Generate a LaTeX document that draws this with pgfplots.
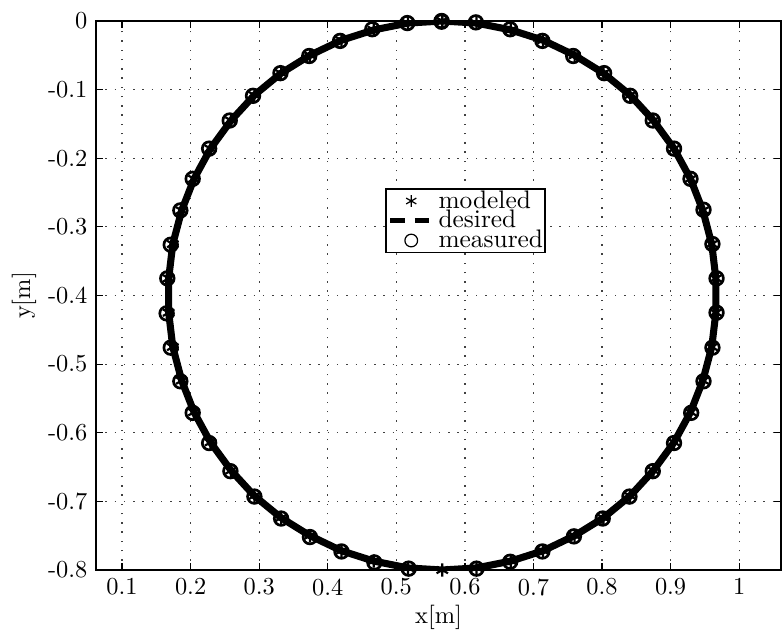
\documentclass[border=0pt]{standalone}
\usepackage{pgfplots}
\usepackage{pgfplotstable}
\pgfplotsset{compat=1.18}

% modeled trajectory (also the desired circle)
\pgfplotstableread{
x y
0.567 0.000
0.617 -0.003
0.667 -0.013
0.714 -0.028
0.760 -0.050
0.802 -0.076
0.841 -0.108
0.875 -0.145
0.905 -0.186
0.929 -0.230
0.947 -0.276
0.960 -0.325
0.966 -0.375
0.966 -0.425
0.960 -0.475
0.947 -0.524
0.929 -0.570
0.905 -0.614
0.875 -0.655
0.841 -0.692
0.802 -0.724
0.760 -0.750
0.714 -0.772
0.667 -0.787
0.617 -0.797
0.567 -0.800
0.517 -0.797
0.467 -0.787
0.420 -0.772
0.374 -0.750
0.332 -0.724
0.293 -0.692
0.259 -0.655
0.229 -0.614
0.205 -0.570
0.187 -0.524
0.174 -0.475
0.168 -0.425
0.168 -0.375
0.174 -0.325
0.187 -0.276
0.205 -0.230
0.229 -0.186
0.259 -0.145
0.293 -0.108
0.332 -0.076
0.374 -0.050
0.420 -0.028
0.467 -0.013
0.517 -0.003
0.567 0.000
}\modeled

% measured trajectory
\pgfplotstableread{
x y
0.566 0.000
0.616 -0.002
0.666 -0.012
0.713 -0.029
0.758 -0.051
0.803 -0.076
0.841 -0.109
0.874 -0.145
0.905 -0.186
0.929 -0.230
0.948 -0.275
0.961 -0.325
0.967 -0.375
0.967 -0.425
0.961 -0.476
0.948 -0.525
0.930 -0.571
0.905 -0.615
0.874 -0.656
0.840 -0.693
0.801 -0.725
0.759 -0.751
0.713 -0.773
0.666 -0.788
0.617 -0.798
0.567 -0.801
0.518 -0.798
0.468 -0.789
0.420 -0.773
0.374 -0.752
0.332 -0.725
0.293 -0.693
0.258 -0.656
0.227 -0.615
0.203 -0.571
0.185 -0.525
0.171 -0.476
0.165 -0.426
0.166 -0.375
0.171 -0.326
0.185 -0.276
0.203 -0.230
0.227 -0.186
0.257 -0.145
0.291 -0.109
0.331 -0.076
0.373 -0.051
0.418 -0.029
0.465 -0.012
0.516 -0.003
0.566 -0.001
}\measured

\begin{document}
\begin{tikzpicture}
\begin{axis}[
  scale only axis,
  width=280.85pt, height=225.09pt,
  xmin=0.062, xmax=1.061, ymin=-0.8, ymax=0,
  axis line style={line width=0.8pt},
  tick style={line width=0.5pt, black},
  major tick length=3pt,
  tick align=inside,
  xtick={0.1,0.2,0.3,0.4,0.5,0.6,0.7,0.8,0.9,1},
  xticklabels={0.1,0.2,0.3,0.4,0.5,0.6,0.7,0.8,0.9,1},
  ytick={-0.8,-0.7,-0.6,-0.5,-0.4,-0.3,-0.2,-0.1,0},
  yticklabels={-0.8,-0.7,-0.6,-0.5,-0.4,-0.3,-0.2,-0.1,0},
  grid=major,
  grid style={line width=0.5pt, black!75, dash pattern=on 0.6pt off 3.2pt},
  xlabel={x[m]}, ylabel={y[m]},
  xlabel style={yshift=3pt},
  ylabel style={yshift=-2pt},
  legend style={at={(0.422,0.695)}, anchor=north west,
    draw=black, line width=0.6pt, inner sep=0.8pt,
    font=\fontsize{10.4}{12}\selectfont,
    nodes={inner sep=0pt, text height=7.0pt, text depth=1.1pt},
    row sep=0pt, column sep=3pt},
  legend cell align=left,
]
% desired circle drawn first so the markers sit on top of it
\addlegendimage{only marks, mark=asterisk, mark size=2.4pt, mark options={line width=0.5pt, black}}
\addlegendentry{modeled}
\addlegendimage{legend image code/.code={\draw[black, line width=2.2pt, dash pattern=on 6pt off 4pt] (0cm,0cm) -- (0.55cm,0cm);}}
\addlegendentry{desired}
\addlegendimage{only marks, mark=o, mark size=2.6pt, mark options={line width=0.5pt, black}}
\addlegendentry{measured}
\addplot[black, line width=2.9pt, line join=round, forget plot]
  table[x=x,y=y] {\modeled};
\addplot[only marks, mark=asterisk, mark size=2.7pt, mark options={line width=0.9pt, black}, forget plot] table[x=x,y=y] {\modeled};
\addplot[only marks, mark=o, mark size=2.8pt, mark options={line width=1.1pt, black}, forget plot] table[x=x,y=y] {\measured};
\end{axis}
\pgfresetboundingbox
\path (-39.36pt,-25.42pt) rectangle (281.26pt,233.7pt);
\end{tikzpicture}
\end{document}
